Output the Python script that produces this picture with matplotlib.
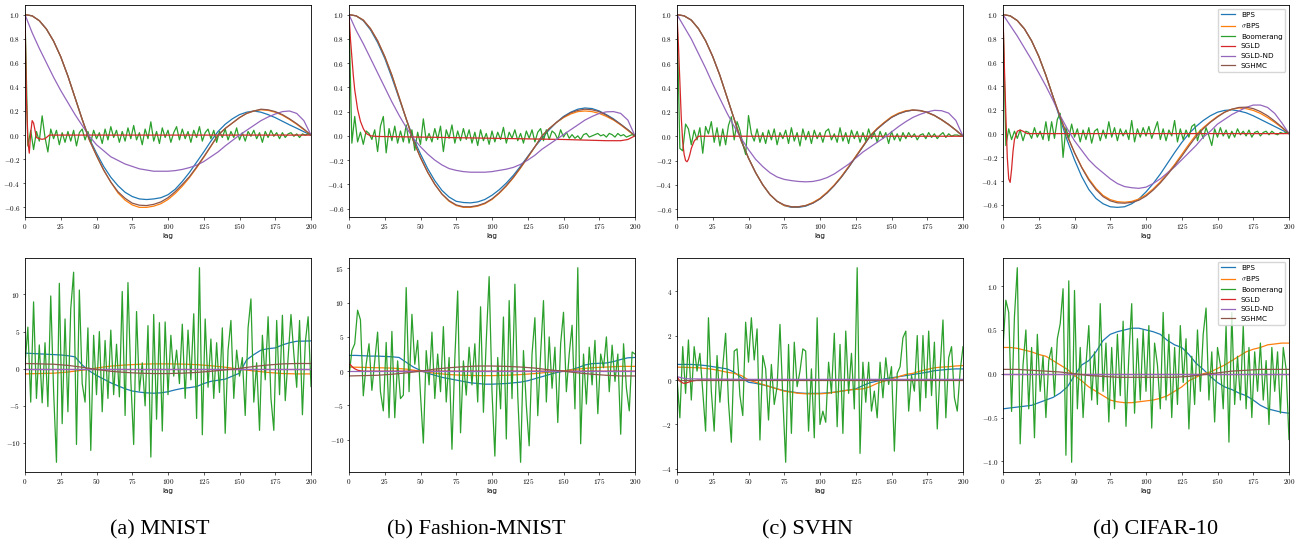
import numpy as np
import matplotlib
matplotlib.use("Agg")
import matplotlib.pyplot as plt

plt.rcParams['font.family'] = ['DejaVu Sans']
plt.rcParams['mathtext.fontset'] = 'cm'

LABELS = ['BPS', r'$\sigma$BPS', 'Boomerang', 'SGLD', 'SGLD-ND', 'SGHMC']
COLORS = ['#1f77b4', '#ff7f0e', '#2ca02c', '#d62728', '#9467bd', '#8c564b']
CAPTIONS = ['(a) MNIST', '(b) Fashion-MNIST', '(c) SVHN', '(d) CIFAR-10']
XTICKS = [0, 25, 50, 75, 100, 125, 150, 175, 200]
TOP_YTICKS = [-0.6, -0.4, -0.2, 0.0, 0.2, 0.4, 0.6, 0.8, 1.0]
BOT_YTICKS = [[-10, -5, 0, 5, 10], [-10, -5, 0, 5, 10, 15], [-4, -2, 0, 2, 4],
              [-1.0, -0.5, 0.0, 0.5, 1.0]]
BOT_YDEC = [0, 0, 0, 1]

LAG2 = np.arange(0, 201, 2)
LAG5 = np.arange(0, 201, 5)
LAG10 = np.arange(0, 201, 10)
LAG_FLAT = [0, 50, 100, 150, 200]

# ---------------- top row: autocorrelation ----------------
# (a) MNIST
a_top_bps = [1.0, 0.99, 0.95, 0.88, 0.78, 0.65, 0.49, 0.31, 0.13, -0.03, -0.15, -0.26, -0.35, -0.42, -0.475,
             -0.51, -0.53, -0.535, -0.53, -0.52, -0.495, -0.45, -0.385, -0.31, -0.225, -0.14, -0.05, 0.03,
             0.09, 0.135, 0.17, 0.19, 0.20, 0.19, 0.17, 0.145, 0.115, 0.085, 0.057, 0.028, 0.0]
a_top_sbps = [1.0, 0.99, 0.95, 0.88, 0.78, 0.65, 0.49, 0.31, 0.13, -0.04, -0.17, -0.29, -0.39, -0.48, -0.54,
              -0.58, -0.60, -0.60, -0.59, -0.57, -0.535, -0.485, -0.424, -0.353, -0.272, -0.185, -0.094, 0.0,
              0.055, 0.10, 0.145, 0.18, 0.20, 0.21, 0.205, 0.19, 0.165, 0.13, 0.09, 0.045, 0.0]
a_top_boom = [1.0, -0.09, 0.04, -0.12, 0.03, -0.05, 0.16, -0.02, -0.14, 0.05,
              -0.03, 0.04, -0.08, 0.02, -0.06, 0.03, -0.05, 0.04, -0.09, 0.02,
              0.05, -0.04, 0.03, -0.06, 0.04, -0.03, 0.02, -0.07, 0.05, -0.04,
              0.07, -0.02, 0.04, -0.06, 0.03, -0.05, 0.06, -0.03, 0.08, -0.04,
              0.02, -0.08, 0.05, -0.03, 0.11, -0.05, 0.03, -0.07, 0.06, -0.02,
              0.04, -0.06, 0.02, 0.07, -0.04, 0.05, -0.03, 0.03, -0.06, 0.04,
              -0.02, 0.07, -0.05, 0.02, 0.05, -0.03, 0.04, -0.06, 0.03, -0.02,
              0.05, -0.04, 0.03, -0.02, 0.06, -0.04, 0.02, -0.05, 0.03, -0.01,
              0.04, -0.03, 0.02, -0.06, 0.03, -0.02, 0.04, -0.01, 0.02, -0.03,
              0.02, -0.02, 0.01, 0.02, -0.01, 0.01, -0.02, 0.01, 0.0, 0.01,
              0.0]
a_top_sgld_lag = [0, 1, 2, 3, 4, 5, 6, 8, 10, 12, 14, 17, 20, 50, 100, 150, 200]
a_top_sgld = [1.0, 0.3, -0.05, -0.15, 0.02, 0.12, 0.10, -0.02, -0.03, -0.035, -0.03, 0.0, 0.0, 0.0, 0.0, 0.0, 0.0]
a_top_nd = [1.0, 0.85, 0.72, 0.60, 0.48, 0.37, 0.27, 0.17, 0.08, -0.01, -0.08, -0.13, -0.18, -0.21, -0.24,
            -0.26, -0.28, -0.29, -0.30, -0.30, -0.30, -0.295, -0.285, -0.27, -0.25, -0.22, -0.18, -0.14,
            -0.09, -0.045, 0.0, 0.04, 0.08, 0.12, 0.15, 0.175, 0.195, 0.20, 0.18, 0.12, 0.0]
a_top_sghmc = [1.0, 0.99, 0.95, 0.88, 0.78, 0.65, 0.49, 0.31, 0.13, -0.04, -0.17, -0.29, -0.39, -0.47, -0.525,
               -0.565, -0.582, -0.585, -0.575, -0.555, -0.52, -0.47, -0.41, -0.345, -0.265, -0.18, -0.09, 0.0,
               0.055, 0.10, 0.145, 0.18, 0.20, 0.215, 0.21, 0.195, 0.17, 0.135, 0.095, 0.05, 0.0]

# (b) Fashion-MNIST
b_top_bps = [1.0, 0.99, 0.95, 0.875, 0.77, 0.64, 0.48, 0.31, 0.14, -0.02, -0.15, -0.27, -0.37, -0.45, -0.505,
             -0.54, -0.55, -0.553, -0.545, -0.525, -0.49, -0.445, -0.39, -0.325, -0.25, -0.17, -0.09, -0.02,
             0.05, 0.11, 0.16, 0.195, 0.22, 0.23, 0.225, 0.205, 0.175, 0.14, 0.095, 0.05, 0.0]
b_top_sbps = [1.0, 0.99, 0.955, 0.885, 0.785, 0.655, 0.5, 0.32, 0.14, -0.04, -0.18, -0.30, -0.40, -0.48, -0.54,
              -0.575, -0.59, -0.59, -0.58, -0.56, -0.525, -0.475, -0.415, -0.345, -0.265, -0.18, -0.09, 0.0,
              0.06, 0.11, 0.15, 0.18, 0.20, 0.205, 0.2, 0.185, 0.16, 0.13, 0.09, 0.045, 0.0]
b_top_boom = [1.0, -0.06, 0.16, -0.05, 0.03, -0.07, 0.04, 0.02, -0.03, 0.05,
              -0.13, 0.08, 0.16, -0.14, 0.06, -0.04, 0.08, -0.06, 0.04, -0.05,
              0.09, -0.06, 0.05, -0.12, 0.03, -0.07, 0.14, -0.04, 0.02, -0.05,
              0.06, -0.03, 0.08, -0.13, 0.05, -0.02, 0.09, -0.06, 0.04, -0.04,
              0.06, -0.03, 0.05, -0.06, 0.03, -0.08, 0.05, -0.04, 0.02, -0.07,
              0.04, -0.05, 0.03, -0.03, 0.07, -0.06, 0.03, -0.02, 0.05, -0.04,
              0.02, -0.06, 0.04, -0.02, 0.05, -0.05, 0.03, 0.06, -0.04, 0.05,
              -0.03, 0.04, 0.02, -0.03, 0.05, -0.01, 0.03, -0.02, 0.01, -0.02,
              0.0, -0.03, 0.01, 0.02, -0.01, 0.0, 0.01, 0.02, 0.0, 0.01,
              -0.01, 0.02, 0.01, -0.01, 0.02, 0.0, 0.01, -0.01, 0.0, 0.01,
              0.0]
b_top_sgld_lag = [0, 1, 2, 3, 4, 5, 6, 8, 10, 12, 15, 20, 50, 100, 150, 180, 190, 195, 200]
b_top_sgld = [1.0, 0.8, 0.65, 0.5, 0.38, 0.3, 0.22, 0.12, 0.06, 0.02, 0.0, -0.005, -0.01, -0.02, -0.03,
              -0.04, -0.04, -0.03, 0.0]
b_top_nd = [1.0, 0.87, 0.76, 0.64, 0.52, 0.40, 0.28, 0.17, 0.07, -0.02, -0.09, -0.15, -0.20, -0.24, -0.27,
            -0.285, -0.295, -0.30, -0.30, -0.30, -0.295, -0.285, -0.275, -0.26, -0.235, -0.20, -0.16, -0.11,
            -0.07, -0.03, 0.01, 0.05, 0.09, 0.13, 0.16, 0.185, 0.198, 0.2, 0.185, 0.13, 0.0]
b_top_sghmc = [1.0, 0.99, 0.955, 0.885, 0.785, 0.655, 0.5, 0.32, 0.14, -0.04, -0.18, -0.30, -0.40, -0.48, -0.535,
               -0.57, -0.585, -0.585, -0.575, -0.555, -0.52, -0.47, -0.41, -0.34, -0.26, -0.175, -0.09, 0.0,
               0.06, 0.11, 0.155, 0.19, 0.21, 0.22, 0.215, 0.2, 0.17, 0.135, 0.095, 0.05, 0.0]

# (c) SVHN
c_top_bps = [1.0, 0.99, 0.955, 0.885, 0.785, 0.655, 0.5, 0.32, 0.14, -0.04, -0.18, -0.30, -0.40, -0.48, -0.535,
             -0.57, -0.585, -0.585, -0.575, -0.55, -0.515, -0.465, -0.405, -0.335, -0.255, -0.17, -0.085, 0.0,
             0.06, 0.11, 0.155, 0.185, 0.205, 0.215, 0.21, 0.195, 0.17, 0.135, 0.095, 0.05, 0.0]
c_top_sbps = [1.0, 0.99, 0.955, 0.885, 0.785, 0.655, 0.5, 0.32, 0.14, -0.04, -0.18, -0.30, -0.40, -0.48, -0.535,
              -0.57, -0.58, -0.58, -0.57, -0.545, -0.51, -0.46, -0.4, -0.33, -0.25, -0.165, -0.08, 0.005,
              0.065, 0.115, 0.16, 0.19, 0.21, 0.215, 0.21, 0.195, 0.17, 0.135, 0.095, 0.05, 0.0]
c_top_boom = [1.0, -0.1, -0.12, 0.1, 0.06, -0.07, 0.05, -0.03, 0.07, -0.14,
              0.08, 0.02, 0.12, -0.05, 0.07, -0.08, 0.06, -0.07, 0.09, 0.16,
              -0.03, 0.12, 0.05, -0.06, -0.15, 0.17, 0.02, -0.04, 0.06, -0.05,
              0.03, -0.06, 0.05, -0.03, 0.06, -0.07, 0.03, -0.02, 0.05, -0.06,
              0.07, -0.04, 0.03, -0.08, 0.06, -0.03, 0.04, -0.06, 0.05, -0.02,
              0.03, -0.05, 0.04, 0.06, -0.03, 0.02, -0.05, 0.07, -0.04, 0.03,
              -0.06, 0.05, -0.02, 0.04, -0.05, 0.03, -0.04, 0.06, -0.02, 0.03,
              -0.05, 0.04, -0.02, 0.03, -0.06, 0.04, -0.03, 0.02, -0.04, 0.03,
              -0.02, 0.03, -0.01, 0.02, -0.03, 0.01, 0.02, -0.02, 0.03, -0.01,
              0.02, -0.02, 0.01, 0.03, -0.01, 0.02, 0.0, 0.01, 0.01, 0.0,
              0.01]
c_top_sgld_lag = [0, 1, 2, 3, 4, 5, 6, 7, 8, 9, 10, 12, 15, 20, 100, 200]
c_top_sgld = [1.0, 0.75, 0.45, 0.15, -0.05, -0.15, -0.2, -0.21, -0.19, -0.15, -0.1, -0.04, 0.0, 0.0, 0.0, 0.0]
c_top_nd = [1.0, 0.9, 0.8, 0.68, 0.56, 0.43, 0.31, 0.19, 0.08, -0.02, -0.11, -0.19, -0.25, -0.30, -0.335,
            -0.355, -0.365, -0.372, -0.375, -0.372, -0.36, -0.34, -0.31, -0.27, -0.23, -0.18, -0.13, -0.09,
            -0.05, -0.01, 0.035, 0.08, 0.12, 0.155, 0.18, 0.2, 0.213, 0.21, 0.19, 0.13, 0.0]
c_top_sghmc = [1.0, 0.99, 0.955, 0.885, 0.785, 0.655, 0.5, 0.32, 0.14, -0.04, -0.18, -0.30, -0.40, -0.48, -0.535,
               -0.565, -0.58, -0.58, -0.57, -0.55, -0.515, -0.465, -0.405, -0.335, -0.255, -0.17, -0.085, 0.0,
               0.06, 0.11, 0.155, 0.185, 0.205, 0.215, 0.212, 0.197, 0.172, 0.137, 0.097, 0.05, 0.0]

# (d) CIFAR-10
d_top_bps = [1.0, 0.99, 0.95, 0.88, 0.78, 0.65, 0.49, 0.31, 0.12, -0.06, -0.22, -0.36, -0.47, -0.545, -0.59,
             -0.615, -0.62, -0.615, -0.59, -0.55, -0.49, -0.42, -0.34, -0.25, -0.16, -0.075, 0.0, 0.06,
             0.11, 0.15, 0.18, 0.195, 0.2, 0.19, 0.175, 0.15, 0.12, 0.09, 0.06, 0.03, 0.0]
d_top_sbps = [1.0, 0.99, 0.95, 0.88, 0.78, 0.65, 0.49, 0.31, 0.14, -0.02, -0.16, -0.28, -0.38, -0.46, -0.52,
              -0.555, -0.572, -0.577, -0.57, -0.55, -0.515, -0.465, -0.405, -0.335, -0.26, -0.175, -0.09,
              -0.01, 0.05, 0.1, 0.145, 0.18, 0.205, 0.215, 0.21, 0.195, 0.17, 0.135, 0.095, 0.05, 0.0]
d_top_boom = [1.0, -0.1, 0.04, -0.05, 0.02, -0.04, 0.03, -0.06, 0.02, 0.01,
              -0.04, 0.05, -0.03, 0.02, -0.05, 0.1, -0.06, 0.1, -0.04, 0.12,
              0.17, -0.2, 0.05, -0.04, 0.08, -0.03, 0.04, -0.07, 0.03, -0.05,
              0.05, -0.08, 0.02, 0.04, -0.06, 0.03, -0.04, 0.1, -0.03, 0.05,
              -0.06, 0.04, -0.02, 0.03, -0.05, 0.11, -0.07, 0.04, -0.03, 0.05,
              -0.02, 0.06, -0.04, 0.03, 0.1, -0.05, 0.04, -0.06, 0.03, -0.02,
              0.11, -0.07, 0.04, -0.05, 0.03, -0.03, 0.06, 0.08, -0.06, 0.03,
              -0.04, 0.05, -0.02, -0.1, 0.04, -0.03, 0.05, -0.02, 0.03, -0.04,
              0.02, -0.03, 0.04, -0.01, 0.02, -0.02, 0.03, -0.03, 0.01, 0.02,
              -0.02, 0.01, 0.02, -0.01, 0.02, 0.0, -0.01, 0.01, 0.0, 0.01,
              0.0]
d_top_sgld_lag = [0, 1, 2, 3, 4, 5, 6, 7, 8, 10, 12, 14, 17, 20, 100, 200]
d_top_sgld = [1.0, 0.55, 0.15, -0.2, -0.38, -0.41, -0.3, -0.15, -0.05, 0.02, 0.03, 0.02, 0.0, 0.0, 0.0, 0.0]
d_top_nd = [1.0, 0.91, 0.82, 0.72, 0.62, 0.51, 0.40, 0.28, 0.15, 0.04, -0.06, -0.14, -0.22, -0.28, -0.33,
            -0.38, -0.42, -0.445, -0.455, -0.46, -0.45, -0.42, -0.38, -0.33, -0.28, -0.22, -0.16, -0.1,
            -0.03, 0.02, 0.08, 0.12, 0.16, 0.19, 0.22, 0.24, 0.24, 0.22, 0.17, 0.09, 0.0]
d_top_sghmc = [1.0, 0.99, 0.95, 0.88, 0.78, 0.65, 0.49, 0.31, 0.14, -0.02, -0.16, -0.285, -0.39, -0.47, -0.53,
               -0.565, -0.582, -0.585, -0.578, -0.56, -0.525, -0.475, -0.415, -0.345, -0.27, -0.19, -0.105,
               -0.025, 0.04, 0.095, 0.14, 0.18, 0.205, 0.22, 0.222, 0.21, 0.185, 0.15, 0.105, 0.055, 0.0]

# ---------------- bottom row ----------------
a_bot_bps = [2.1, 2.05, 2.0, 1.95, 1.9, 1.85, 1.75, 1.6, 0.5, -0.3, -0.9, -1.4, -1.9, -2.3, -2.7, -3.0, -3.15,
             -3.25, -3.3, -3.25, -3.1, -2.85, -2.65, -2.55, -2.4, -2.0, -1.7, -1.55, -1.4, -1.0, -0.6, 1.2,
             1.9, 2.5, 2.7, 2.8, 3.2, 3.5, 3.7, 3.72, 3.75]
a_bot_sbps = [-0.7, -0.65, -0.6, -0.45, -0.2, 0.1, 0.35, 0.5, 0.6, 0.65, 0.65, 0.62, 0.55, 0.4, 0.2, -0.05,
              -0.3, -0.5, -0.65, -0.7, -0.7]
a_bot_boom = [0.5, 5.6, -4.5, 9.0, -4.0, 3.2, -4.6, 3.5, -5.1, 9.8,
              -3.0, -12.6, 11.5, -7.4, 6.7, -5.8, 8.1, 13.0, -10.2, 10.6,
              -2.0, -4.5, 5.5, -11.0, 4.5, -3.5, 5.0, -5.8, 3.8, -4.0,
              5.2, -3.5, 3.3, -3.8, 10.4, -6.3, 11.6, -1.5, -10.2, 7.7,
              -3.0, 0.8, -5.0, 5.8, -11.9, 7.3, -6.8, 6.2, -8.4, 6.3,
              -3.5, 4.5, -1.0, 2.5, -2.0, 6.0, -4.0, 5.2, -1.5, 7.4,
              -6.7, 13.6, -8.9, 6.7, -2.5, 4.0, -4.0, 3.5, -3.2, 5.5,
              -8.7, 2.5, 6.5, -4.0, 2.5, -1.0, 1.5, -6.3, 5.5, 9.4,
              -4.5, 0.8, -8.3, 4.5, -1.5, 7.0, -4.0, -8.3, 6.5, -3.5,
              7.2, -4.3, 1.5, 7.3, 2.0, -2.5, 6.5, -6.2, 3.5, 7.0,
              -2.4]
a_bot_sgld = [0.0, 0.0, 0.0, 0.0, 0.0]
a_bot_nd = [0.0, 0.0, 0.0, 0.0, 0.0]
a_bot_sghmc = [0.7, 0.65, 0.6, 0.45, 0.2, -0.1, -0.35, -0.5, -0.6, -0.65, -0.65, -0.6, -0.5, -0.35, -0.15,
               0.05, 0.3, 0.5, 0.65, 0.7, 0.7]

b_bot_bps = [2.3, 2.3, 2.25, 2.2, 2.2, 2.15, 2.1, 2.0, 1.3, 0.6, 0.1, -0.3, -0.6, -0.9, -1.1, -1.3, -1.5, -1.7,
             -1.8, -1.9, -1.9, -1.85, -1.8, -1.7, -1.6, -1.4, -1.1, -0.8, -0.5, -0.2, 0.0, 0.2, 0.5, 0.9, 1.1,
             1.15, 1.2, 1.4, 1.7, 1.95, 2.0]
b_bot_sbps = [0.6, 0.55, 0.5, 0.45, 0.3, 0.0, -0.3, -0.5, -0.6, -0.65, -0.65, -0.6, -0.5, -0.35, -0.15, 0.05,
              0.3, 0.5, 0.6, 0.7, 0.7]
b_bot_boom = [-0.8, 3.0, 4.0, 8.9, 7.5, -3.6, 1.0, 4.0, -2.8, 1.5,
              5.7, -3.0, -5.8, 4.2, -6.8, 5.8, -6.8, 1.5, -4.0, -3.5,
              12.2, -3.0, 8.3, 1.0, 4.5, -3.5, -10.5, 3.0, -2.0, 5.7,
              -4.0, 2.5, -3.0, 6.5, -4.5, 2.0, -11.4, 1.8, 11.7, -9.0,
              1.5, -3.5, 3.5, -2.0, 4.0, -4.5, 9.4, -6.0, 4.5, 13.8,
              -3.0, -12.4, 2.0, -5.5, 7.9, -9.9, 10.3, -4.0, 12.7, -3.5,
              -13.3, 3.0, -5.0, -10.9, 2.5, 7.8, -6.5, 2.5, 10.3, -4.5,
              5.0, -2.5, 3.5, -7.5, 4.0, 8.6, -3.0, 2.5, 6.7, -5.5,
              15.1, -10.6, 2.5, -4.8, 3.5, -2.0, 4.5, -6.2, 2.5, 0.5,
              5.0, -3.0, 3.8, -1.5, 2.5, -9.2, 4.0, -2.5, -5.8, 2.8,
              2.5]
b_bot_sgld_lag = [0, 1, 2, 3, 4, 6, 8, 10, 20, 100, 200]
b_bot_sgld = [1.0, 0.95, 0.7, 0.5, 0.35, 0.15, 0.05, 0.0, 0.0, 0.0, 0.0]
b_bot_nd = [0.0, 0.0, 0.0, 0.0, 0.0]
b_bot_sghmc = [-0.7, -0.65, -0.6, -0.45, -0.25, 0.0, 0.3, 0.5, 0.65, 0.75, 0.75, 0.7, 0.6, 0.45, 0.2, 0.0,
               -0.25, -0.45, -0.6, -0.7, -0.7]

c_bot_bps = [0.7, 0.7, 0.7, 0.68, 0.65, 0.6, 0.55, 0.5, 0.35, 0.1, -0.1, -0.15, -0.22, -0.3, -0.4, -0.48, -0.53,
             -0.58, -0.6, -0.6, -0.6, -0.58, -0.55, -0.5, -0.45, -0.4, -0.25, -0.12, -0.05, 0.05, 0.1, 0.15,
             0.2, 0.25, 0.3, 0.35, 0.42, 0.45, 0.48, 0.5, 0.5]
c_bot_sbps = [0.58, 0.57, 0.56, 0.55, 0.52, 0.48, 0.42, 0.35, 0.3, 0.2, 0.0, -0.1, -0.2, -0.3, -0.4, -0.5, -0.55,
              -0.6, -0.62, -0.62, -0.62, -0.6, -0.55, -0.5, -0.45, -0.42, -0.4, -0.3, -0.15, -0.05, 0.05, 0.15,
              0.25, 0.3, 0.4, 0.48, 0.55, 0.58, 0.6, 0.63, 0.65]
c_bot_boom = [0.1, -1.7, 1.5, -0.6, 1.8, -0.9, 1.5, 0.4, 1.2, -0.5,
              -2.3, 2.8, -0.5, -2.3, 1.1, -1.0, 0.6, 2.1, -1.0, -2.8,
              1.3, 1.4, -0.7, -1.6, 2.6, 0.8, 2.8, 0.9, 2.3, -2.7,
              1.1, 0.5, -1.8, 0.7, -1.1, -0.3, 2.5, -0.8, -3.7, 1.6,
              -2.4, 1.7, -0.3, 0.4, 1.4, 1.3, -2.3, 0.5, -2.6, 2.8,
              -2.0, -1.4, -1.9, 0.8, -0.6, 2.1, -2.1, 1.6, -2.4, 2.2,
              -0.6, 1.2, -1.3, 5.05, -3.3, 0.8, -1.0, 0.8, -1.4, -0.5,
              -1.7, 0.8, -0.8, 1.0, -0.2, 0.6, -3.2, 0.3, 0.6, 1.9,
              2.2, -1.4, 0.2, -0.5, 2.0, -1.4, 2.0, -0.8, 2.2, -0.7,
              1.7, -2.2, 0.5, 2.7, -1.7, 1.0, 1.5, -0.8, -1.4, 0.4,
              1.5]
c_bot_sgld_lag = [0, 2, 4, 5, 6, 8, 10, 15, 20, 100, 200]
c_bot_sgld = [0.15, -0.05, -0.13, -0.15, -0.14, -0.1, -0.05, 0.0, 0.0, 0.0, 0.0]
c_bot_nd_lag = [0, 3, 6, 10, 50, 100, 150, 200]
c_bot_nd = [0.15, 0.1, 0.06, 0.05, 0.03, 0.03, 0.03, 0.03]
c_bot_sghmc = [0.02, 0.02, 0.02, 0.02, 0.02]

d_bot_bps = [-0.4, -0.39, -0.38, -0.37, -0.36, -0.33, -0.3, -0.27, -0.22, -0.15, -0.02, 0.1, 0.15, 0.25, 0.38,
             0.45, 0.48, 0.5, 0.52, 0.52, 0.5, 0.48, 0.45, 0.38, 0.33, 0.3, 0.22, 0.12, 0.05, -0.03, -0.1,
             -0.15, -0.18, -0.22, -0.25, -0.3, -0.36, -0.4, -0.42, -0.44, -0.45]
d_bot_sbps = [0.3, 0.3, 0.29, 0.27, 0.25, 0.22, 0.2, 0.15, 0.1, 0.05, -0.02, -0.08, -0.15, -0.2, -0.25, -0.3,
              -0.32, -0.33, -0.33, -0.32, -0.31, -0.3, -0.28, -0.25, -0.2, -0.15, -0.08, -0.04, 0.0, 0.02,
              0.06, 0.1, 0.15, 0.2, 0.25, 0.28, 0.3, 0.33, 0.34, 0.35, 0.35]
d_bot_boom = [0.3, 0.84, 0.7, -0.43, 0.65, 1.21, -0.8, 0.1, 0.5, -0.4,
              0.3, -0.73, 0.45, -0.2, 0.2, -0.5, 0.15, 0.3, -0.25, 0.4,
              0.57, 0.97, -0.93, 1.06, -1.01, 0.95, -0.4, 0.3, -0.5, 0.1,
              0.55, -0.3, 0.25, -0.35, 0.8, -0.2, 0.35, -0.55, 0.3, -0.4,
              0.45, -0.25, 0.6, -0.6, 0.2, 0.8, -0.45, 0.4, -0.3, 0.5,
              -0.2, 0.55, -0.62, 0.35, 0.1, -0.4, 0.7, -0.3, 0.45, -0.5,
              0.3, -0.35, 0.55, -0.1, 0.4, -0.63, 0.2, -0.35, 0.5, -0.2,
              0.45, 0.75, -0.3, 0.25, -0.55, 0.3, 0.1, -0.4, 0.55, -0.78,
              0.7, -0.35, 0.2, -0.3, 0.55, -0.4, 0.3, -0.5, 0.25, -0.2,
              0.35, -0.3, 0.15, -0.58, 0.3, -0.2, 0.25, -0.45, 0.3, 0.05,
              -0.75]
d_bot_sgld = [0.0, 0.0, 0.0, 0.0, 0.0]
d_bot_nd = [0.0, 0.0, 0.0, 0.0, 0.0]
d_bot_sghmc = [0.05, 0.05, 0.04, 0.03, 0.02, 0.0, -0.02, -0.03, -0.04, -0.04, -0.04, -0.04, -0.04, -0.03,
               -0.01, 0.01, 0.03, 0.04, 0.05, 0.05, 0.05]

TOP = [
    [(LAG5, a_top_bps), (LAG5, a_top_sbps), (LAG2, a_top_boom), (a_top_sgld_lag, a_top_sgld),
     (LAG5, a_top_nd), (LAG5, a_top_sghmc)],
    [(LAG5, b_top_bps), (LAG5, b_top_sbps), (LAG2, b_top_boom), (b_top_sgld_lag, b_top_sgld),
     (LAG5, b_top_nd), (LAG5, b_top_sghmc)],
    [(LAG5, c_top_bps), (LAG5, c_top_sbps), (LAG2, c_top_boom), (c_top_sgld_lag, c_top_sgld),
     (LAG5, c_top_nd), (LAG5, c_top_sghmc)],
    [(LAG5, d_top_bps), (LAG5, d_top_sbps), (LAG2, d_top_boom), (d_top_sgld_lag, d_top_sgld),
     (LAG5, d_top_nd), (LAG5, d_top_sghmc)],
]
BOT = [
    [(LAG5, a_bot_bps), (LAG10, a_bot_sbps), (LAG2, a_bot_boom), (LAG_FLAT, a_bot_sgld),
     (LAG_FLAT, a_bot_nd), (LAG10, a_bot_sghmc)],
    [(LAG5, b_bot_bps), (LAG10, b_bot_sbps), (LAG2, b_bot_boom), (b_bot_sgld_lag, b_bot_sgld),
     (LAG_FLAT, b_bot_nd), (LAG10, b_bot_sghmc)],
    [(LAG5, c_bot_bps), (LAG5, c_bot_sbps), (LAG2, c_bot_boom), (c_bot_sgld_lag, c_bot_sgld),
     (c_bot_nd_lag, c_bot_nd), (LAG_FLAT, c_bot_sghmc)],
    [(LAG5, d_bot_bps), (LAG5, d_bot_sbps), (LAG2, d_bot_boom), (LAG_FLAT, d_bot_sgld),
     (LAG_FLAT, d_bot_nd), (LAG10, d_bot_sghmc)],
]

W, H = 1307, 547
fig = plt.figure(figsize=(W / 100, H / 100), dpi=100)

LEFTS = [25, 349, 677, 1003]
AX_W = 286
ROWS = [(5, 217), (258, 472)]
CAP_X = [160, 476, 807, 1156]
FS = 5.2


def style(ax, yticks, dec):
    ax.set_xlim(0, 200)
    ax.set_xticks(XTICKS)
    ax.set_xticklabels([f'${t}$' for t in XTICKS])
    ax.set_yticks(yticks)
    ax.set_yticklabels([f'${t:.{dec}f}$' for t in yticks])
    ax.tick_params(labelsize=FS, length=1.8, width=0.45, pad=1.8)
    for s in ax.spines.values():
        s.set_linewidth(0.6)
    ax.set_xlabel('lag', fontsize=FS, labelpad=1.5)


for i in range(4):
    for r, (data, (ytop, ybot)) in enumerate(zip([TOP[i], BOT[i]], ROWS)):
        ax = fig.add_axes([LEFTS[i] / W, 1 - ybot / H, AX_W / W, (ybot - ytop) / H])
        for (lag, vals), lab, col in zip(data, LABELS, COLORS):
            ax.plot(lag, vals, color=col, lw=0.9, label=lab)
        ax.margins(y=0.05)
        if r == 0:
            style(ax, TOP_YTICKS, 1)
        else:
            style(ax, BOT_YTICKS[i], BOT_YDEC[i])
        if i == 3:
            ax.legend(loc='upper right', fontsize=FS, handlelength=2.0, borderpad=0.4,
                      labelspacing=0.5, framealpha=0.8, edgecolor='0.8', fancybox=True)
    fig.text(CAP_X[i] / W, 1 - 530 / H, CAPTIONS[i], ha='center', va='center',
             family='Liberation Serif', fontsize=16)

fig.savefig('out.png', dpi=100)
